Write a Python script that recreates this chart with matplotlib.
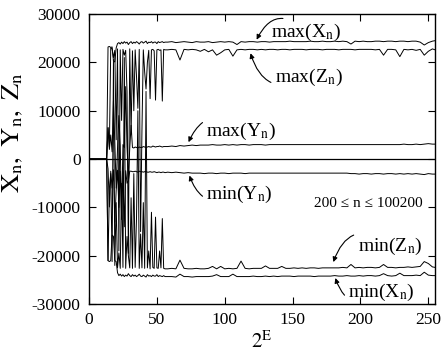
import numpy as np
import matplotlib
matplotlib.use('Agg')
import matplotlib.pyplot as plt

plt.rcParams['font.family'] = ['Liberation Serif', 'DejaVu Serif']
plt.rcParams['mathtext.fontset'] = 'stix'
plt.rcParams['axes.unicode_minus'] = False

# 2^E: start, chaotic part (14..56), then the settled part
e_start = [0, 13]
e_chaos = list(range(14, 57))
e_flat = list(range(58, 254, 3)) + [255]

# values in thousands
max_x_chaos = [23.2, 23.3, 23.1, 23.2, 20.3, 20.1, 23.0, 23.9, 24.1, 23.8,
               24.2, 23.9, 24.3, 24.0, 24.2, 23.7, 24.1, 24.3, 23.9, 24.2,
               24.0, 24.3, 24.1, 23.8, 24.2, 24.3, 24.0, 24.2, 24.4, 23.9,
               24.2, 24.1, 24.3, 24.0, 24.2, 24.2, 23.9, 24.3, 24.1, 24.2,
               24.3, 24.1, 24.2]
max_x_flat = [24.2, 24.3, 24.1, 24.2, 24.3, 24.2, 24.1, 24.3, 24.2, 24.2,
              24.3, 24.1, 24.2, 24.3, 24.2, 24.3, 24.2, 23.7, 24.3, 24.2,
              24.3, 24.3, 24.2, 24.3, 24.3, 24.2, 24.3, 24.3, 24.3, 24.3,
              24.4, 24.3, 24.3, 24.3, 24.3, 24.4, 24.3, 24.3, 24.4, 24.3,
              24.3, 24.4, 24.3, 24.4, 24.3, 23.8, 24.4, 24.3, 24.4, 24.3,
              24.3, 24.4, 24.4, 24.3, 24.4, 24.4, 24.3, 24.4, 24.4, 24.3,
              24.4, 24.4, 24.2, 23.6, 24.1, 24.4, 24.5]

max_z_chaos = [6.5, 2.5, 23.0, 22.8, 21.0, 22.5, 4.0, 22.8, -19.0, 22.6,
               8.0, 22.7, 21.5, 22.5, 14.0, -19.5, 22.8, 5.0, 22.4, 10.0,
               22.6, 17.0, 10.5, 22.7, -15.0, 6.0, 22.6, 18.0, 14.5, 20.0,
               22.5, 12.5, 22.6, 22.7, 22.4, 12.2, 22.6, 22.7, 22.5, 22.6,
               12.0, 22.7, 22.6]
max_z_flat = [22.6, 22.7, 22.6, 20.5, 22.7, 22.6, 22.7, 22.6, 22.3, 22.7,
              22.2, 22.6, 21.5, 22.0, 22.6, 22.7, 21.3, 22.6, 22.7, 22.6,
              22.7, 22.7, 22.6, 22.7, 22.6, 22.7, 22.7, 22.6, 22.7, 22.7,
              22.6, 22.7, 22.7, 22.7, 22.6, 22.7, 22.7, 22.7, 22.6, 22.7,
              22.7, 22.7, 22.6, 22.7, 22.7, 22.7, 22.6, 22.7, 22.7, 22.7,
              22.7, 22.6, 22.7, 21.5, 22.7, 22.7, 22.6, 21.2, 22.7, 22.6,
              22.7, 22.5, 22.7, 21.5, 22.3, 22.8, 22.6]

max_y_chaos = [6.5, 2.0, 5.0, 1.5, 12.0, 3.5, -6.0, 2.2, 9.0, 2.8,
               -12.0, 3.0, 2.4, 15.0, 2.6, -4.0, 2.3, 7.0, 2.4, 2.3,
               2.5, 2.4, 2.3, 2.5, 2.4, 2.4, 2.6, 2.5, 2.4, 2.5,
               2.6, 2.5, 2.5, 2.7, 2.6, 2.5, 2.6, 2.6, 2.7, 2.6,
               2.5, 2.6, 2.6]
max_y_flat = [2.6, 2.7, 2.6, 2.8, 2.7, 2.8, 2.9, 2.8, 2.9, 2.9,
              2.9, 3.0, 2.9, 2.9, 3.0, 2.9, 3.0, 2.9, 3.0, 3.0,
              2.9, 3.0, 3.0, 3.0, 2.9, 3.0, 3.0, 3.0, 3.0, 3.0,
              3.0, 3.0, 3.0, 3.0, 3.0, 3.0, 3.0, 3.0, 3.0, 3.0,
              3.0, 3.0, 3.0, 3.0, 3.0, 3.0, 3.0, 3.0, 3.0, 3.0,
              3.0, 3.0, 3.0, 3.0, 3.0, 3.0, 3.0, 3.0, 3.1, 3.0,
              3.0, 3.1, 3.0, 3.1, 3.2, 3.1, 3.1]

min_y_chaos = [-2.0, -9.9, -2.5, -6.0, -2.2, -13.0, -6.5, -2.3, -10.0, -2.5,
               -12.5, -2.6, -14.0, -2.4, -5.0, -4.5, -2.5, -2.5, -2.6, -2.6,
               -2.5, -2.6, -2.7, -2.5, -2.6, -2.6, -2.7, -2.6, -2.6, -2.7,
               -2.7, -2.6, -2.7, -2.7, -2.6, -2.7, -2.8, -2.7, -2.7, -2.8,
               -2.7, -2.7, -2.8]
min_y_flat = [-2.7, -2.8, -2.7, -2.8, -2.9, -2.8, -2.9, -2.9, -2.9, -3.0,
              -2.9, -2.9, -3.0, -2.9, -2.9, -3.0, -2.9, -2.9, -2.9, -3.0,
              -2.9, -2.9, -2.9, -2.9, -2.9, -2.9, -2.9, -2.9, -2.9, -2.9,
              -2.9, -2.9, -2.9, -2.9, -2.9, -2.9, -2.9, -2.9, -2.9, -2.9,
              -2.9, -2.9, -2.9, -2.9, -2.9, -3.0, -3.0, -3.1, -3.0, -3.0,
              -3.1, -3.0, -3.0, -3.1, -3.0, -3.0, -3.1, -3.0, -3.1, -3.0,
              -3.1, -3.0, -3.1, -3.2, -3.0, -3.1, -3.1]

min_z_chaos = [-21.0, -6.0, -3.0, -21.2, 20.6, -22.0, -9.0, -22.5, -19.4, -22.6,
               -5.0, -22.4, 21.0, -22.6, -16.0, -20.0, -22.5, -8.0, -22.6, -3.0,
               -22.4, -12.0, 10.0, -22.6, -15.5, -22.5, -9.0, -22.6, 14.0, -22.5,
               -19.0, -22.7, -11.0, -22.4, -22.6, -12.0, -22.5, -22.6, -19.0, -22.5,
               -12.3, -22.6, -22.7]
min_z_flat = [-22.7, -22.6, -22.7, -20.9, -22.6, -22.7, -22.7, -22.6, -22.7, -22.7,
              -22.6, -22.2, -22.7, -22.2, -22.7, -22.6, -22.7, -22.6, -21.1, -22.6,
              -22.7, -22.6, -22.6, -22.6, -22.1, -22.6, -22.6, -22.6, -22.2, -22.6,
              -22.6, -22.5, -22.6, -22.5, -22.6, -22.5, -22.5, -22.6, -22.5, -22.5,
              -22.5, -22.5, -22.5, -22.4, -22.5, -21.8, -22.5, -22.4, -22.5, -22.4,
              -22.4, -22.5, -22.4, -21.8, -22.4, -22.4, -22.5, -22.4, -22.4, -22.3,
              -22.4, -22.3, -22.2, -21.2, -21.6, -22.3, -22.4]

min_x_chaos = [-21.0, -21.2, -21.0, -15.7, -16.0, -21.0, -21.2, -23.5, -24.1, -23.8,
               -24.2, -23.9, -24.3, -24.0, -24.2, -23.7, -24.1, -24.3, -23.9, -24.2,
               -24.0, -24.3, -24.1, -23.8, -24.2, -24.3, -24.0, -24.2, -24.4, -23.9,
               -24.2, -24.1, -24.3, -24.0, -24.2, -24.2, -23.9, -24.3, -24.1, -24.2,
               -24.3, -24.1, -24.3]
min_x_flat = [-24.3, -24.3, -24.4, -23.8, -24.3, -24.3, -24.4, -24.3, -24.3, -24.3,
              -24.3, -24.2, -23.9, -24.3, -24.3, -24.3, -23.8, -24.3, -24.3, -24.3,
              -24.3, -24.2, -24.3, -24.3, -24.2, -24.3, -24.2, -24.3, -24.2, -24.2,
              -24.2, -24.3, -24.2, -24.2, -24.2, -24.2, -24.3, -24.2, -24.2, -24.2,
              -24.2, -24.1, -24.2, -24.2, -24.1, -24.2, -24.2, -24.1, -24.2, -24.1,
              -24.1, -24.2, -24.1, -23.7, -24.1, -24.2, -24.1, -23.6, -24.1, -24.1,
              -24.1, -24.0, -24.1, -23.4, -24.0, -24.1, -24.1]

e = np.array(e_start + e_chaos + e_flat)
series = [
    (max_x_chaos, max_x_flat),
    (max_z_chaos, max_z_flat),
    (max_y_chaos, max_y_flat),
    (min_y_chaos, min_y_flat),
    (min_z_chaos, min_z_flat),
    (min_x_chaos, min_x_flat),
]

fig = plt.figure(figsize=(4.44, 3.52), dpi=100)
ax = fig.add_axes([0.2005, 0.136, 0.7795, 0.824])

ax.axhline(0, color='black', lw=0.9)
for chaos, flat in series:
    vals = np.array([0.0, 0.0] + chaos + flat) * 1000
    ax.plot(e, vals, color='black', lw=0.7)

ax.set_xlim(0, 255)
ax.set_ylim(-30000, 30000)
ax.set_xticks([0, 50, 100, 150, 200, 250])
ax.set_yticks(np.arange(-30000, 30001, 10000))
ax.tick_params(direction='in', top=True, right=True, length=5, width=0.8,
               labelsize=12.5, pad=6)
for s in ax.spines.values():
    s.set_linewidth(1.0)

ax.set_xlabel(r'$2^{\mathrm{E}}$', fontsize=15, labelpad=2)
ax.set_ylabel(r'$\mathrm{X_n,\ Y_n,\ Z_n}$', fontsize=19)
ax.yaxis.set_label_coords(-0.185, 0.593)

arrow = dict(arrowstyle='-|>', color='black', lw=0.8, mutation_scale=7)
labels = [
    (r'max(X$_\mathrm{n}$)', (134, 26300), (123.5, 24700), 0.7),
    (r'max(Z$_\mathrm{n}$)', (137, 16800), (119, 21900), -0.6),
    (r'max(Y$_\mathrm{n}$)', (86.5, 5650), (73.3, 3500), 0.7),
    (r'min(Y$_\mathrm{n}$)', (86.5, -7250), (74, -3400), -0.6),
    (r'min(Z$_\mathrm{n}$)', (198, -18000), (180, -21300), 0.7),
    (r'min(X$_\mathrm{n}$)', (191, -27500), (181.5, -24600), -0.7),
]
for txt, pos, target, rad in labels:
    ax.annotate(txt, xy=target, xytext=pos, fontsize=14, ha='left', va='center',
                arrowprops=dict(arrow, connectionstyle='arc3,rad=%s' % rad,
                                shrinkA=1, shrinkB=0))

ax.text(246, -9100, '200 ≤ n ≤ 100200', fontsize=11,
        ha='right', va='center')

fig.savefig('out.png', dpi=100)
